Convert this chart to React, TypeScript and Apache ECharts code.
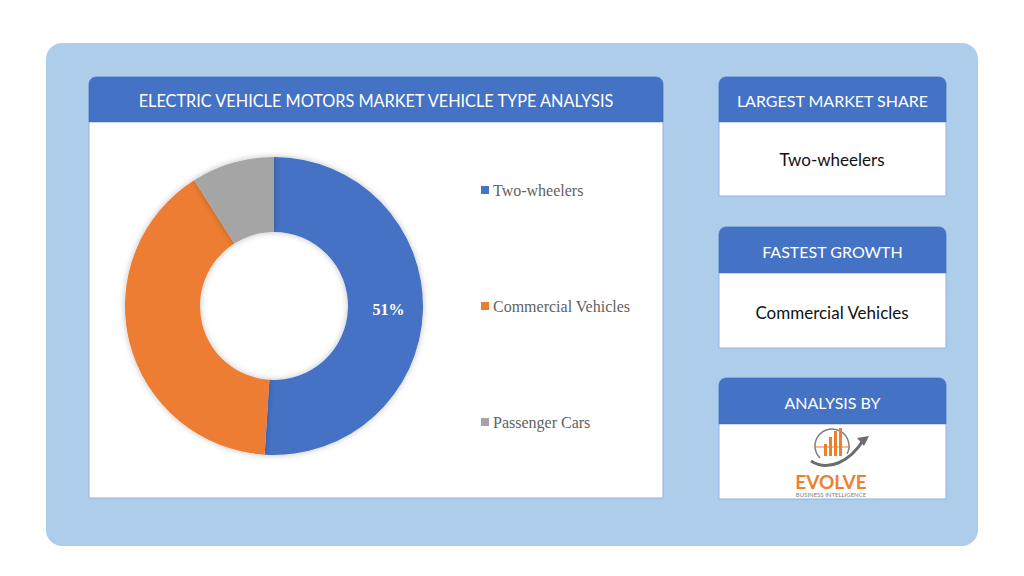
import React, { useEffect, useRef } from "react";
import * as echarts from "echarts";

const categories = ["Two-wheelers", "Commercial Vehicles", "Passenger Cars"];
const shares = [51, 40, 9];
const colors = ["#4472C4", "#ED7D31", "#A5A5A5"];
const chartTitle = "ELECTRIC VEHICLE MOTORS MARKET VEHICLE TYPE ANALYSIS";
const sideTitles = ["LARGEST MARKET SHARE", "FASTEST GROWTH", "ANALYSIS BY"];
const sideValues = ["Two-wheelers", "Commercial Vehicles"];

const HEAD = "#4472C4";
const BORDER = "#8DB4E2";
const SANS = "Lato, 'Open Sans', sans-serif";

function panel(x: number, y: number, w: number, h: number, hh: number, title: string, fs: number) {
  return [
    { type: "rect", z: 1, shape: { x, y, width: w, height: h, r: [7, 7, 0, 0] }, style: { fill: "#fff", stroke: BORDER, lineWidth: 1 } },
    { type: "rect", z: 2, shape: { x, y, width: w, height: hh, r: [7, 7, 0, 0] }, style: { fill: HEAD, stroke: "#3f69b5", lineWidth: 0.5 } },
    { type: "text", z: 3, x: x + w / 2, y: y + hh / 2 + 1, style: { text: title, fill: "#fff", font: `${fs}px ${SANS}`, align: "center", verticalAlign: "middle" } },
  ];
}

export default function App() {
  const ref = useRef<HTMLDivElement>(null);
  useEffect(() => {
    document.body.style.margin = "0";
    const chart = echarts.init(ref.current!, null, { renderer: "svg" });
    const graphics: any[] = [
      { type: "rect", z: 0, shape: { x: 46, y: 43, width: 932, height: 503, r: 16 }, style: { fill: "#AECDEB" } },
      ...panel(89, 77, 574, 421, 45, chartTitle, 16.3),
      ...panel(719, 77, 227, 119, 45, sideTitles[0], 16),
      ...panel(719, 227, 227, 121, 46, sideTitles[1], 16),
      ...panel(719, 378, 227, 121, 46, sideTitles[2], 16),
      { type: "text", z: 3, x: 832, y: 159, style: { text: sideValues[0], fill: "#111", font: `17px ${SANS}`, align: "center", verticalAlign: "middle" } },
      { type: "text", z: 3, x: 832, y: 312, style: { text: sideValues[1], fill: "#111", font: `17px ${SANS}`, align: "center", verticalAlign: "middle" } },
      // logo
      { type: "arc", z: 3, shape: { cx: 832, cy: 446, r: 17, startAngle: Math.PI * 0.75, endAngle: Math.PI * 2.15 }, style: { stroke: "#7f7f7f", lineWidth: 1.5, fill: null } },
      { type: "line", z: 3, shape: { x1: 814, y1: 447, x2: 850, y2: 447 }, style: { stroke: "#ED7D31", lineWidth: 1.2 } },
      { type: "rect", z: 3, shape: { x: 824, y: 444, width: 3, height: 12 }, style: { fill: "#ED7D31" } },
      { type: "rect", z: 3, shape: { x: 829, y: 437, width: 3, height: 19 }, style: { fill: "#ED7D31" } },
      { type: "rect", z: 3, shape: { x: 834, y: 431, width: 3, height: 25 }, style: { fill: "#ED7D31" } },
      { type: "rect", z: 3, shape: { x: 839, y: 428, width: 3, height: 28 }, style: { fill: "#ED7D31" } },
      { type: "bezierCurve", z: 4, shape: { x1: 811, y1: 461, x2: 864, y2: 439, cpx1: 828, cpy1: 472, cpx2: 850, cpy2: 462 }, style: { stroke: "#6d6d6d", lineWidth: 3, fill: null } },
      { type: "polygon", z: 4, shape: { points: [[869, 436], [857, 438], [864, 446]] }, style: { fill: "#6d6d6d" } },
      { type: "text", z: 3, x: 831, y: 481, style: { text: "EVOLVE", fill: "#F08030", font: `bold 19px ${SANS}`, align: "center", verticalAlign: "middle" } },
      { type: "text", z: 3, x: 831, y: 494, style: { text: "BUSINESS INTELLIGENCE", fill: "#808080", font: `6px ${SANS}`, align: "center", verticalAlign: "middle" } },
    ];
    chart.setOption({
      animation: false,
      color: colors,
      graphic: graphics,
      legend: {
        orient: "vertical",
        left: 476,
        top: 177,
        itemWidth: 8,
        itemHeight: 8,
        itemGap: 100,
        icon: "rect",
        data: categories,
        textStyle: { fontFamily: "'Liberation Serif', serif", fontSize: 16, color: "#5f5f5f", padding: [0, 0, 0, -1] },
        z: 5,
      },
      series: [
        {
          type: "pie",
          z: 5,
          center: [274, 306],
          radius: [74, 149],
          startAngle: 90,
          clockwise: true,
          avoidLabelOverlap: false,
          itemStyle: { shadowBlur: 6, shadowColor: "rgba(0,0,0,0.25)" },
          label: {
            show: true,
            position: "inside",
            formatter: (p: any) => (p.dataIndex === 0 ? `${p.value}%` : ""),
            color: "#fff",
            fontWeight: "bold",
            fontSize: 16,
            fontFamily: "'Liberation Serif', serif",
          },
          labelLine: { show: false },
          data: categories.map((c, i) => ({ name: c, value: shares[i] })),
        },
      ],
    });
    return () => chart.dispose();
  }, []);
  return <div ref={ref} style={{ position: "absolute", left: 0, top: 0, width: 1024, height: 576 }} />;
}
